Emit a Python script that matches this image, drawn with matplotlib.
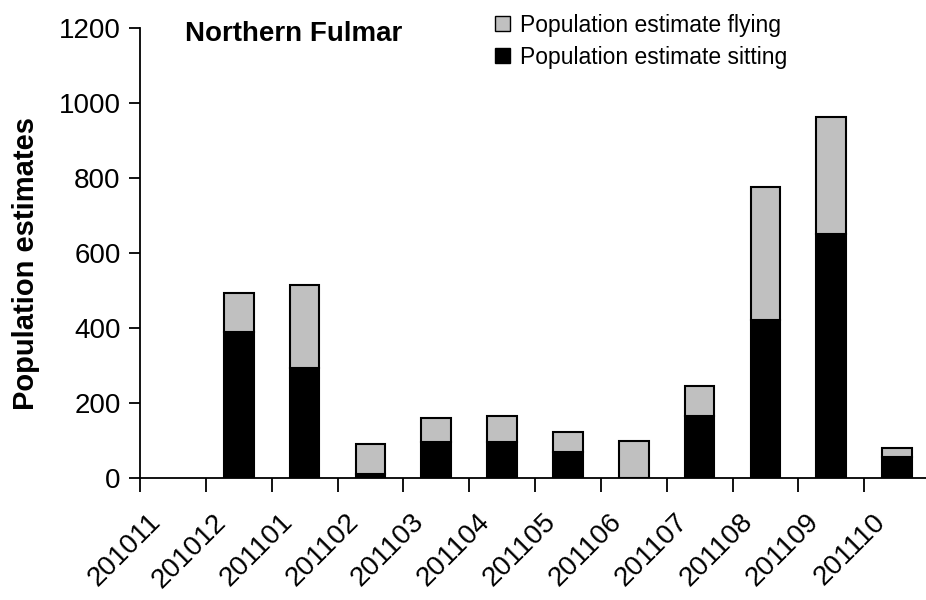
import matplotlib
matplotlib.use("Agg")
import matplotlib.pyplot as plt
from matplotlib.transforms import ScaledTranslation
from matplotlib.patches import Patch
import numpy as np

plt.rcParams['font.family'] = ['Liberation Sans', 'DejaVu Sans']

months = ['201011', '201012', '201101', '201102', '201103', '201104',
          '201105', '201106', '201107', '201108', '201109', '201110']
sitting = [0, 389, 293, 12, 97, 97, 70, 0, 166, 422, 650, 57]
flying = [0, 105, 223, 79, 62, 68, 52, 99, 79, 355, 312, 23]

fig = plt.figure(figsize=(9.26, 6.0), dpi=100)
ax = fig.add_axes([140 / 926, 122 / 600, 790 / 926, 450 / 600])

x = np.arange(len(months)) + 0.5
w = 0.45
lw_sit = [1.5 if v > 0 else 0 for v in sitting]
lw_fly = [1.5 if v > 0 else 0 for v in flying]
ax.bar(x, sitting, w, color='black', edgecolor='black', linewidth=lw_sit, zorder=2)
ax.bar(x, flying, w, bottom=sitting, color='#c0c0c0', edgecolor='black',
       linewidth=lw_fly, zorder=2)

ax.set_xlim(0, len(months))
ax.set_ylim(0, 1200)
ax.set_yticks(np.arange(0, 1201, 200))
ax.tick_params(axis='y', labelsize=20, length=8, width=1.3, direction='out', pad=6)

# boundaries get the tick marks, centres get the labels
ax.set_xticks(np.arange(0, len(months)))
ax.set_xticklabels([])
ax.tick_params(axis='x', which='major', length=10, width=1.3, direction='out')
ax.set_xticks(x, minor=True)
ax.set_xticklabels(months, minor=True, rotation=45, ha='right', va='center',
                   rotation_mode='anchor', fontsize=20)
ax.tick_params(axis='x', which='minor', length=0, pad=29)
offset = ScaledTranslation(-16 / 100, 0, fig.dpi_scale_trans)
for lab in ax.get_xticklabels(minor=True):
    lab.set_transform(lab.get_transform() + offset)

for s in ('top', 'right'):
    ax.spines[s].set_visible(False)
for s in ('left', 'bottom'):
    ax.spines[s].set_linewidth(1.3)

ax.set_ylabel('Population estimates', fontsize=21, fontweight='bold')
ax.yaxis.set_label_coords(-0.126, 0.476)

fig.text(185 / 926, 1 - 34 / 600, 'Northern Fulmar', fontsize=20,
         fontweight='bold', va='center', ha='left')

handles = [Patch(facecolor='#c0c0c0', edgecolor='black', linewidth=1),
           Patch(facecolor='black', edgecolor='black', linewidth=1)]
fig.legend(handles, ['Population estimate flying', 'Population estimate sitting'],
           loc='upper left', bbox_to_anchor=(474 / 926, 1 + 7 / 600),
           frameon=False, fontsize=16.5, handlelength=0.65, handleheight=0.65,
           handletextpad=0.45, labelspacing=0.4)

fig.savefig('out.png', dpi=100)
